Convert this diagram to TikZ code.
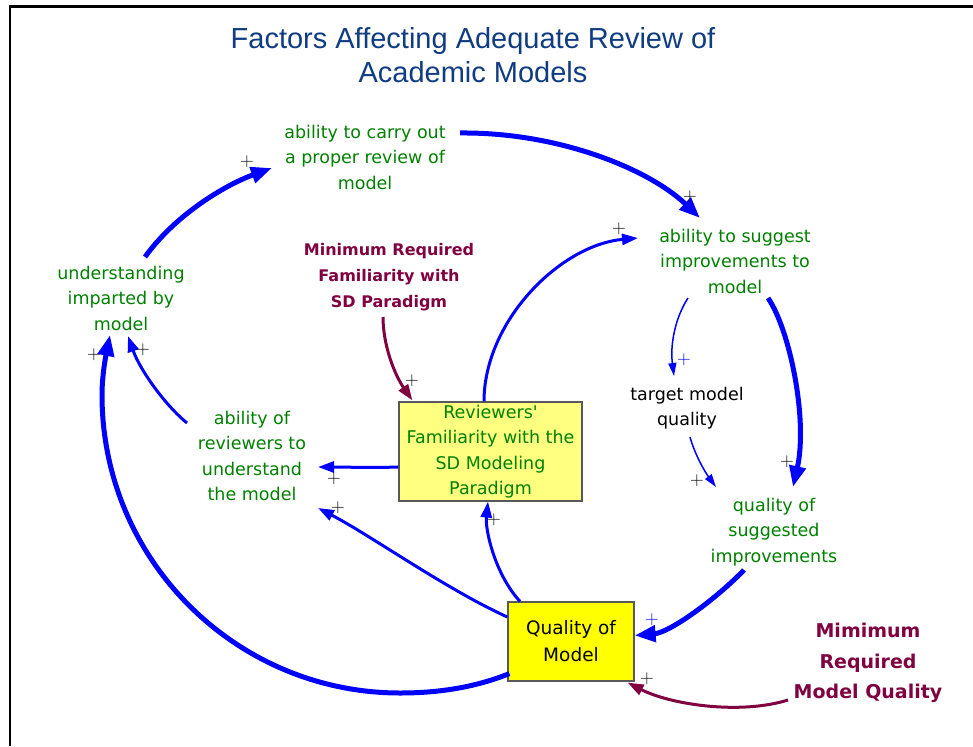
\documentclass[tikz,border=0pt]{standalone}
\usepackage{fontspec}
\usetikzlibrary{arrows.meta}
\newfontfamily\labelfont{DejaVu Sans}
\newfontfamily\titlefont{Liberation Sans}
\definecolor{sdgreen}{RGB}{0,128,0}
\definecolor{sdmaroon}{RGB}{128,0,64}
\definecolor{sdblue}{RGB}{0,0,255}
\definecolor{titleblue}{RGB}{16,60,130}
\definecolor{paleyellow}{RGB}{255,255,128}
\definecolor{brightyellow}{RGB}{255,255,0}
\begin{document}
\begin{tikzpicture}[x=1pt,y=-1pt,
  var/.style={align=center, inner sep=0pt, text=sdgreen,
    font=\labelfont\fontsize{17.5}{25.5}\selectfont},
  plain/.style={var, text=black},
  given/.style={align=center, inner sep=0pt, text=sdmaroon,
    font=\labelfont\bfseries\fontsize{16}{26}\selectfont},
  stockbox/.style={draw=black!65, line width=1.2pt, inner sep=0pt, align=center,
    font=\labelfont\fontsize{17.5}{25.5}\selectfont},
  link/.style={draw=sdblue, line width=3pt, -{Triangle[length=16pt,width=11pt]}},
  heavylink/.style={draw=sdblue, line width=5pt, -{Triangle[length=21pt,width=16pt]}},
  lightlink/.style={draw=sdblue, line width=1.5pt, -{Triangle[length=13pt,width=8pt]}},
  givenlink/.style={draw=sdmaroon, line width=3pt, -{Triangle[length=16pt,width=11pt]}},
  pol/.style={inner sep=0pt, font=\fontsize{19}{19}\selectfont}
]
\useasboundingbox (0,0) rectangle (973,746);
\fill[white] (0,0) rectangle (973,746);

% frame
\draw[line width=2.5pt] (10,746) -- (10,6.5) -- (973,6.5);

% title
\node[align=center, text=titleblue, inner sep=0pt,
  font=\titlefont\fontsize{29}{34}\selectfont] (title) at (473,55)
  {Factors Affecting Adequate Review of\\Academic Models};

% variables
\node[var] (carry) at (365,157) {ability to carry out\\a proper review of\\model};
\node[var] (suggest) at (735,261) {ability to suggest\\improvements to\\model};
\node[var] (under) at (121,298) {understanding\\imparted by\\model};
\node[given] (minfam) at (389,277) {Minimum Required\\Familiarity with\\SD Paradigm};
\node[var] (abrev) at (252,456) {ability of\\reviewers to\\understand\\the model};
\node[stockbox, fill=paleyellow, text=sdgreen, minimum width=183pt, minimum height=99pt]
  (revbox) at (490.5,451.5) {Reviewers'\\Familiarity with the\\SD Modeling\\Paradigm};
\node[plain] (target) at (687,408) {target model\\quality};
\node[var] (qsugg) at (774,532) {quality of\\suggested\\improvements};
\node[stockbox, fill=brightyellow, text=black, minimum width=126pt, minimum height=79pt,
  font=\labelfont\fontsize{18.5}{27}\selectfont]
  (qmodel) at (571,641.5) {Quality of\\Model};
\node[given, font=\labelfont\bfseries\fontsize{19}{30.5}\selectfont] (minq) at (868,663)
  {Mimimum\\Required\\Model Quality};

% causal links (shift offsets are in picture units, y pointing down)
\draw[heavylink] ([shift={(24,-41)}]under.center)
  .. controls +(30,-42) and +(-47,17) .. ([shift={(-93,11)}]carry.center);
\draw[heavylink] ([shift={(95,-24)}]carry.center)
  .. controls +(100,-1) and +(-50,-48) .. ([shift={(-35,-43)}]suggest.center);
\draw[link] ([shift={(-6.5,0)}]revbox.north)
  .. controls +(0,-80) and +(-78,7) .. ([shift={(-97,-23)}]suggest.center);
\draw[lightlink] ([shift={(-47,37)}]suggest.center)
  .. controls +(-13,20) and +(-4,-31) .. ([shift={(-13,-32)}]target.center);
\draw[heavylink] ([shift={(33,37)}]suggest.center)
  .. controls +(22,32) and +(15,-67) .. ([shift={(19,-45)}]qsugg.center);
\draw[lightlink] ([shift={(3,29)}]target.center)
  .. controls +(5,18) and +(-11,-15) .. ([shift={(-58,-45)}]qsugg.center);
\draw[heavylink] ([shift={(-30,38)}]qsugg.center)
  .. controls +(-29,30) and +(35,-3) .. ([shift={(0,-6)}]qmodel.east);
\draw[givenlink] ([shift={(-80,37)}]minq.center)
  .. controls +(-48,15) and +(43,22) .. ([shift={(-7,1)}]qmodel.south east);
\draw[link] ([shift={(-51,0)}]qmodel.north)
  .. controls +(-25,-27) and +(-3,28) .. ([shift={(-2.5,0)}]revbox.south);
\draw[link] ([shift={(0,-24.5)}]qmodel.west)
  .. controls +(-60,-27) and +(52,27) .. ([shift={(66,52)}]abrev.center);
\draw[heavylink] ([shift={(2,-8)}]qmodel.south west)
  .. controls +(-35,14) and +(38,0) .. ([shift={(279,395)}]under.center)
  .. controls +(-164,0) and +(0,165) .. ([shift={(-19,97)}]under.center)
  .. controls +(0,-20) and +(-4,20) .. ([shift={(-11,37)}]under.center);
\draw[link] ([shift={(0,15.5)}]revbox.west)
  .. controls +(-30,1) and +(30,0) .. ([shift={(66,11)}]abrev.center);
\draw[link] ([shift={(-65,-33)}]abrev.center)
  .. controls +(-22,-18) and +(12,34) .. ([shift={(7,38)}]under.center);
\draw[givenlink] ([shift={(-6,40)}]minfam.center)
  .. controls +(0,28) and +(-18,-26) .. ([shift={(14,-1)}]revbox.north west);

% link polarities
\node[pol] (p1) at (247,162) {+};
\node[pol] (p2) at (690,197) {+};
\node[pol] (p3) at (619,229) {+};
\node[pol, text=sdblue] (p4) at (684,360) {+};
\node[pol] (p5) at (787,462) {+};
\node[pol] (p6) at (697,481) {+};
\node[pol, text=sdblue] (p7) at (652,620) {+};
\node[pol] (p8) at (647,679) {+};
\node[pol] (p9) at (494,520) {+};
\node[pol] (p10) at (338,508) {+};
\node[pol] (p11) at (94,355) {+};
\node[pol] (p12) at (334,479) {+};
\node[pol] (p13) at (143,350) {+};
\node[pol] (p14) at (412,381) {+};
\end{tikzpicture}
\end{document}
